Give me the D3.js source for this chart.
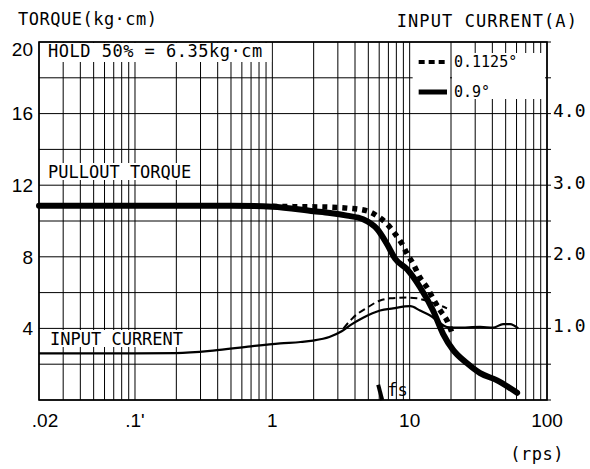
<!DOCTYPE html>
<html>
<head>
<meta charset="utf-8">
<script src="https://cdn.jsdelivr.net/npm/d3@7"></script>
<style>
  body { margin: 0; background: #fff; }
  text { fill: #000; }
  .mono { font-family: "DejaVu Sans Mono", monospace; }
  .num { font-family: "Liberation Sans", Arial, sans-serif; }
</style>
</head>
<body>
<div class="chart"></div>
<script>
// Tick values and labels
var rpsTicks = [0.02, 0.1, 1, 10, 100];
var rpsLabels = [".02", ".1'", "1", "10", "100"];
var torqueTicks = [4, 8, 12, 16, 20];
var currentTicks = [1.0, 2.0, 3.0, 4.0];

// Pull-out torque, 0.9 deg (kg·cm)
var torque09Rps = [0.02, 0.5, 1, 2, 2.63, 3.5, 4.58, 5.8, 6.85, 7.83, 9.58, 11.9, 14.8, 17.5, 20.7, 26.2, 32.6, 43.3, 60.6];
var torque09Val = [10.85, 10.85, 10.8, 10.55, 10.45, 10.3, 10.1, 9.55, 8.7, 7.9, 7.3, 6.3, 5.0, 3.7, 2.8, 2.05, 1.5, 1.1, 0.4];

// Pull-out torque, 0.1125 deg (kg·cm)
var torque01Rps = [1, 1.5, 2.5, 3.5, 4.9, 5.8, 6.85, 7.83, 8.8, 9.58, 10.6, 11.9, 13.4, 14.8, 16.7, 18.7, 20.4];
var torque01Val = [10.82, 10.8, 10.78, 10.72, 10.56, 10.28, 9.83, 9.28, 8.72, 8.17, 7.61, 6.83, 6.28, 5.67, 5.0, 4.44, 3.72];

// Input current, 0.9 deg (A)
var current09Rps = [0.02, 0.1, 0.2, 0.37, 0.7, 1.14, 1.6, 1.98, 2.6, 3.2, 3.8, 4.58, 6.09, 7.57, 10.1, 11.9, 14.1, 15.8, 18.7, 22.2, 32.6, 40.5, 47.9, 53.9, 61.7];
var current09Val = [0.65, 0.65, 0.655, 0.69, 0.75, 0.79, 0.81, 0.83, 0.88, 0.96, 1.06, 1.15, 1.25, 1.28, 1.31, 1.25, 1.18, 1.11, 1.02, 1.01, 1.02, 1.01, 1.06, 1.06, 1.0];

// Input current, 0.1125 deg (A)
var current01Rps = [3.3, 3.87, 4.9, 6.09, 7.2, 9.58, 11.3, 14.1, 16.7, 18.7];
var current01Val = [1.0, 1.15, 1.29, 1.39, 1.42, 1.43, 1.42, 1.37, 1.32, 1.28];

// fs marker position (rps)
var fsRps = 6.0;

var svgWidth = 590;
var svgHeight = 469;
var margin = { top: 42, right: 43, bottom: 69, left: 39 };
var width = svgWidth - margin.left - margin.right;
var height = svgHeight - margin.top - margin.bottom;

var svg = d3.select(".chart").append("svg")
  .attr("width", svgWidth)
  .attr("height", svgHeight);
var chart = svg.append("g")
  .attr("transform", "translate(" + margin.left + "," + margin.top + ")");

var x = d3.scaleLog().domain([0.02, 100]).range([0, width]);
var y = d3.scaleLinear().domain([0, 20]).range([height, 0]);
var yR = d3.scaleLinear().domain([0, 5]).range([height, 0]);

// grid
chart.append("g").selectAll("line")
  .data(x.ticks())
  .enter().append("line")
  .attr("x1", function(d) { return x(d); })
  .attr("x2", function(d) { return x(d); })
  .attr("y1", 0).attr("y2", height)
  .attr("stroke", "#000").attr("stroke-width", 1);

chart.append("g").selectAll("line")
  .data(y.ticks(10))
  .enter().append("line")
  .attr("x1", 0).attr("x2", width + 4)
  .attr("y1", function(d) { return y(d); })
  .attr("y2", function(d) { return y(d); })
  .attr("stroke", "#000").attr("stroke-width", 1);

// white boxes: hold note and legend
chart.append("rect")
  .attr("x", 1).attr("y", 1)
  .attr("width", x(1) - 2).attr("height", 19)
  .attr("fill", "#fff");
chart.append("rect")
  .attr("x", x(10) + 3).attr("y", 11)
  .attr("width", x(20) - x(10) - 4).attr("height", 46)
  .attr("fill", "#fff");
chart.append("rect")
  .attr("x", x(20) + 1).attr("y", 11)
  .attr("width", x(100) - x(20) - 3).attr("height", 46)
  .attr("fill", "#fff");

// frame
chart.append("rect")
  .attr("width", width).attr("height", height)
  .attr("fill", "none").attr("stroke", "#000").attr("stroke-width", 1.6);

// in-chart labels with white background
function boxLabel(txt, tx, ty) {
  var g = chart.append("g");
  var bg = g.append("rect").attr("fill", "#fff");
  var t = g.append("text").attr("class", "mono")
    .attr("x", tx).attr("y", ty)
    .style("font-size", "17px")
    .text(txt);
  var b = t.node().getBBox();
  bg.attr("x", b.x - 2).attr("y", b.y + 1).attr("width", b.width + 4).attr("height", b.height - 3);
}
chart.append("text").attr("class", "mono")
  .attr("x", 9).attr("y", 15)
  .style("font-size", "17px").style("letter-spacing", "0.5px")
  .text("HOLD 50% = 6.35kg·cm");
boxLabel("PULLOUT TORQUE", 9, 136);
boxLabel("INPUT CURRENT", 11, 303);

// curves
function pts(xs, vs) { return xs.map(function(d, i) { return [d, vs[i]]; }); }
var lineT = d3.line()
  .x(function(d) { return x(d[0]); })
  .y(function(d) { return y(d[1]); })
  .curve(d3.curveMonotoneX);
var lineC = d3.line()
  .x(function(d) { return x(d[0]); })
  .y(function(d) { return yR(d[1]); })
  .curve(d3.curveMonotoneX);

chart.append("path")
  .attr("d", lineC(pts(current01Rps, current01Val)))
  .attr("fill", "none").attr("stroke", "#000").attr("stroke-width", 2)
  .attr("stroke-dasharray", "7 4");
chart.append("path")
  .attr("d", lineC(pts(current09Rps, current09Val)))
  .attr("fill", "none").attr("stroke", "#000").attr("stroke-width", 2.2);
chart.append("path")
  .attr("d", lineT(pts(torque01Rps, torque01Val)))
  .attr("fill", "none").attr("stroke", "#000").attr("stroke-width", 5.5)
  .attr("stroke-dasharray", "5 5");
chart.append("path")
  .attr("d", lineT(pts(torque09Rps, torque09Val)))
  .attr("fill", "none").attr("stroke", "#000").attr("stroke-width", 6)
  .attr("stroke-linecap", "round");

// fs marker
chart.append("line")
  .attr("x1", x(fsRps) - 1).attr("y1", y(0.85))
  .attr("x2", x(fsRps) + 3).attr("y2", y(0))
  .attr("stroke", "#000").attr("stroke-width", 4);
chart.append("text").attr("class", "mono")
  .attr("x", x(fsRps) + 8).attr("y", height - 4)
  .style("font-size", "17px")
  .text("fs");

// legend
var legend = [
  { label: "0.1125°", dash: "6 4", yy: 20 },
  { label: "0.9°", dash: null, yy: 50 }
];
legend.forEach(function(l) {
  chart.append("line")
    .attr("x1", x(10) + 9).attr("x2", x(20) - 4)
    .attr("y1", l.yy).attr("y2", l.yy)
    .attr("stroke", "#000").attr("stroke-width", l.dash ? 4 : 5)
    .attr("stroke-dasharray", l.dash);
  chart.append("text").attr("class", "mono")
    .attr("x", x(20) + 3).attr("y", l.yy + 5)
    .style("font-size", "15px")
    .text(l.label);
});

// left axis labels
chart.append("g").selectAll("text")
  .data(torqueTicks)
  .enter().append("text")
  .attr("class", "num")
  .attr("x", -6)
  .attr("y", function(d) { return y(d) + (d === 20 ? 7 : 0); })
  .attr("dy", "0.36em")
  .attr("text-anchor", "end")
  .style("font-size", "19px")
  .text(function(d) { return d; });

// right axis labels
chart.append("g").selectAll("text")
  .data(currentTicks)
  .enter().append("text")
  .attr("class", "mono")
  .attr("x", width + 6)
  .attr("y", function(d) { return yR(d) - 3; })
  .attr("dy", "0.36em")
  .style("font-size", "18px")
  .text(function(d) { return d.toFixed(1); });

// bottom axis labels
chart.append("g").selectAll("text")
  .data(rpsTicks)
  .enter().append("text")
  .attr("class", "num")
  .attr("x", function(d, i) { return x(d) + (i === 0 ? 6 : 0); })
  .attr("y", height + 27)
  .attr("text-anchor", "middle")
  .style("font-size", "19px")
  .text(function(d, i) { return rpsLabels[i]; });

// axis titles
svg.append("text").attr("class", "mono")
  .attr("x", 18).attr("y", 25)
  .style("font-size", "17px").style("letter-spacing", "0.5px")
  .text("TORQUE(kg·cm)");
svg.append("text").attr("class", "mono")
  .attr("x", 578).attr("y", 27)
  .attr("text-anchor", "end")
  .style("font-size", "17px").style("letter-spacing", "1.1px")
  .text("INPUT CURRENT(A)");
svg.append("text").attr("class", "mono")
  .attr("x", 564).attr("y", 460)
  .attr("text-anchor", "end")
  .style("font-size", "17px").style("letter-spacing", "0.5px")
  .text("(rps)");
</script>
</body>
</html>
